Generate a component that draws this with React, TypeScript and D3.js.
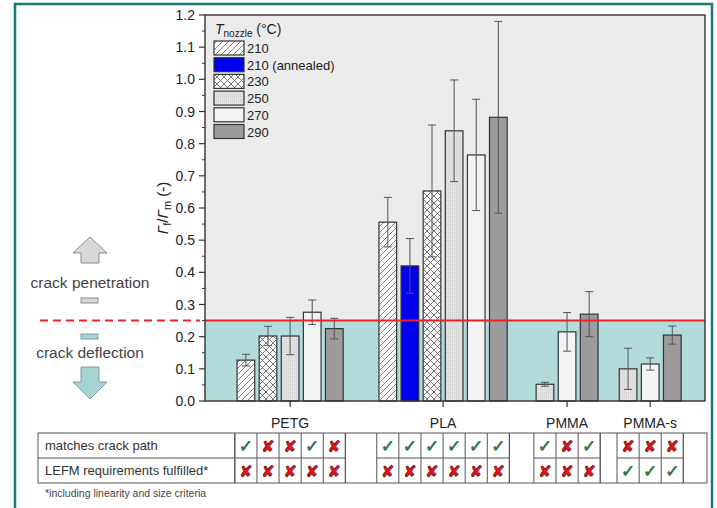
import React from "react";
import * as d3 from "d3";

const categories = ["PETG", "PLA", "PMMA", "PMMA-s"];
const categoryPos = [3.85, 10.77, 16.38, 20.14];
const seriesNames = ["210", "210 (annealed)", "230", "250", "270", "290"];
const groupSeries = [
  [0, 2, 3, 4, 5],
  [0, 1, 2, 3, 4, 5],
  [3, 4, 5],
  [3, 4, 5],
];
const groupValues = [
  [0.127, 0.202, 0.202, 0.276, 0.225],
  [0.556, 0.42, 0.653, 0.84, 0.765, 0.882],
  [0.052, 0.215, 0.27],
  [0.1, 0.115, 0.205],
];
const groupErrors = [
  [0.018, 0.03, 0.058, 0.038, 0.032],
  [0.077, 0.085, 0.205, 0.158, 0.173, 0.298],
  [0.006, 0.06, 0.07],
  [0.064, 0.019, 0.028],
];
const matchesCrackPath = [
  [1, 0, 0, 1, 0],
  [1, 1, 1, 1, 1, 1],
  [1, 0, 1],
  [0, 0, 0],
];
const lefmFulfilled = [
  [0, 0, 0, 0, 0],
  [0, 0, 0, 0, 0, 0],
  [0, 0, 0],
  [1, 1, 1],
];
const tableRowLabels = ["matches crack path", "LEFM requirements fulfilled*"];
const yTickValues = d3.range(0, 13).map((i) => i / 10);
const yMinorValues = d3.range(0, 12).map((i) => i / 10 + 0.05);
const threshold = 0.25;

const FONT = "'Liberation Sans', Arial, Helvetica, sans-serif";
const fills = [
  "url(#hatch210)",
  "url(#hatchBlue)",
  "url(#cross230)",
  "url(#dots250)",
  "#f3f3f3",
  "#9c9c9c",
];

export default function App() {
  const W = 717,
    H = 508;
  const left = 205,
    right = 705,
    top = 15,
    bottom = 401;
  const y = d3.scaleLinear().domain([0, 1.2]).range([bottom, top]);
  const x = d3.scaleLinear().domain([0, 22.62]).range([left, right]);
  const unit = x(1) - x(0);
  const barW = unit * 0.8;

  const bars: any[] = [];
  categories.forEach((c, g) => {
    const n = groupSeries[g].length;
    groupSeries[g].forEach((s, i) => {
      const cx = x(categoryPos[g] + (i - (n - 1) / 2));
      bars.push({
        g,
        i,
        s,
        cx,
        v: groupValues[g][i],
        e: groupErrors[g][i],
        m: matchesCrackPath[g][i],
        l: lefmFulfilled[g][i],
      });
    });
  });

  const tableLeft = 38;
  const tableTop = 433;
  const rowH = 25;
  const firstCol = bars[0].cx - unit / 2;
  const tableRight = right + 2;

  const groupRanges = categories.map((c, g) => {
    const gb = bars.filter((b) => b.g === g);
    return [gb[0].cx - unit / 2, gb[gb.length - 1].cx + unit / 2];
  });

  const check = (cx: number, cy: number, key: string) => (
    <text
      key={key}
      x={cx}
      y={cy + 6}
      textAnchor="middle"
      fontFamily="'DejaVu Sans', sans-serif"
      fontSize={17}
      fontWeight="bold"
      fill="#2a8a3b"
      stroke="#17461f"
      strokeWidth={0.5}
    >
      ✓
    </text>
  );
  const cross = (cx: number, cy: number, key: string) => (
    <text
      key={key}
      x={cx}
      y={cy + 6}
      textAnchor="middle"
      fontFamily="'DejaVu Sans', sans-serif"
      fontSize={16}
      fill="#e4141c"
      stroke="#5a0a0a"
      strokeWidth={0.6}
    >
      ✘
    </text>
  );

  const legendX = 214;
  const legendY0 = 48;
  const legendStep = 16.7;

  return (
    <svg
      width={W}
      height={H}
      style={{ position: "absolute", left: 0, top: 0, background: "#fff" }}
      fontFamily={FONT}
    >
      <defs>
        <pattern id="hatch210" patternUnits="userSpaceOnUse" width={6} height={6}>
          <rect width={6} height={6} fill="#fff" />
          <path d="M-1,1 l2,-2 M0,6 l6,-6 M5,7 l2,-2" stroke="#707070" strokeWidth={0.9} />
        </pattern>
        <pattern id="hatchBlue" patternUnits="userSpaceOnUse" width={6} height={6}>
          <rect width={6} height={6} fill="#0000f0" />
          <path d="M-1,1 l2,-2 M0,6 l6,-6 M5,7 l2,-2" stroke="#10104a" strokeWidth={0.9} />
        </pattern>
        <pattern id="cross230" patternUnits="userSpaceOnUse" width={7} height={7}>
          <rect width={7} height={7} fill="#fff" />
          <path d="M0,0 L7,7 M7,0 L0,7" stroke="#666" strokeWidth={0.9} />
        </pattern>
        <pattern id="dots250" patternUnits="userSpaceOnUse" width={2} height={2}>
          <rect width={2} height={2} fill="#e2e2e2" />
          <rect width={1} height={1} fill="#cfcfcf" />
        </pattern>
      </defs>

      {/* teal frame */}
      <path d="M15,508 L15,4 L712,4 L712,508" fill="none" stroke="#17797a" strokeWidth={2.5} />

      {/* plot backgrounds */}
      <rect x={left} y={top} width={right - left} height={y(threshold) - top} fill="#ebebeb" />
      <rect x={left} y={y(threshold)} width={right - left} height={bottom - y(threshold)} fill="#b2dcdc" />

      {/* bars */}
      {bars.map((b, k) => (
        <rect
          key={"b" + k}
          x={b.cx - barW / 2}
          y={y(b.v)}
          width={barW}
          height={bottom - y(b.v)}
          fill={fills[b.s]}
          stroke="#333"
          strokeWidth={1.2}
        />
      ))}
      {/* error bars */}
      {bars.map((b, k) => (
        <g key={"e" + k} stroke="#555" strokeWidth={1}>
          <line x1={b.cx} x2={b.cx} y1={y(b.v + b.e)} y2={y(b.v - b.e)} />
          <line x1={b.cx - 4} x2={b.cx + 4} y1={y(b.v + b.e)} y2={y(b.v + b.e)} />
          <line x1={b.cx - 4} x2={b.cx + 4} y1={y(b.v - b.e)} y2={y(b.v - b.e)} />
        </g>
      ))}

      {/* threshold line */}
      <line x1={left} x2={right} y1={y(threshold)} y2={y(threshold)} stroke="#ee2226" strokeWidth={2} />

      {/* frame */}
      <rect x={left} y={top} width={right - left} height={bottom - top} fill="none" stroke="#333" strokeWidth={1.4} />

      {/* y axis ticks */}
      {yTickValues.map((t) => (
        <g key={"yt" + t}>
          <line x1={left - 6} x2={left} y1={y(t)} y2={y(t)} stroke="#333" strokeWidth={1.2} />
          <text x={left - 10} y={y(t) + 5} textAnchor="end" fontSize={14} fill="#222">
            {t.toFixed(1)}
          </text>
        </g>
      ))}
      {yMinorValues.map((t) => (
        <line key={"ym" + t} x1={left - 3} x2={left} y1={y(t)} y2={y(t)} stroke="#333" strokeWidth={1} />
      ))}

      {/* y title */}
      <text
        transform={`translate(168, ${y(0.6)}) rotate(-90)`}
        textAnchor="middle"
        fontSize={15}
        fill="#222"
      >
        <tspan fontStyle="italic">Γ</tspan>
        <tspan fontSize={11} dy={3}>f</tspan>
        <tspan dy={-3}>/</tspan>
        <tspan fontStyle="italic">Γ</tspan>
        <tspan fontSize={11} dy={3}>m</tspan>
        <tspan dy={-3}> (-)</tspan>
      </text>

      {/* x ticks & labels */}
      {categories.map((c, g) => (
        <g key={"xc" + c}>
          <line x1={x(categoryPos[g])} x2={x(categoryPos[g])} y1={bottom} y2={bottom + 6} stroke="#333" strokeWidth={1.2} />
          <text x={x(categoryPos[g])} y={bottom + 27} textAnchor="middle" fontSize={14} fill="#222">
            {c}
          </text>
        </g>
      ))}

      {/* legend */}
      <text x={legendX + 1} y={34} fontSize={14} fill="#222">
        <tspan fontStyle="italic">T</tspan>
        <tspan fontSize={10} dy={3}>nozzle</tspan>
        <tspan dy={-3}> (°C)</tspan>
      </text>
      {seriesNames.map((s, i) => (
        <g key={"lg" + s}>
          <rect
            x={legendX}
            y={legendY0 + i * legendStep - 7}
            width={30}
            height={14}
            fill={fills[i]}
            stroke="#333"
            strokeWidth={1.2}
          />
          <text x={legendX + 33} y={legendY0 + i * legendStep + 5} fontSize={13} fill="#222">
            {s}
          </text>
        </g>
      ))}

      {/* left annotation */}
      <path
        d="M90,237 L107,253 L99,253 L99,263 L81,263 L81,253 L73,253 Z"
        fill="#d8d8d8"
        stroke="#8c8c8c"
        strokeWidth={1}
      />
      <rect x={81} y={298} width={17} height={5} fill="#d8d8d8" stroke="#8c8c8c" strokeWidth={1} />
      <text x={90} y={288} textAnchor="middle" fontSize={15.5} fill="#444">
        crack penetration
      </text>
      <line x1={40} x2={left - 5} y1={y(threshold)} y2={y(threshold)} stroke="#ee2226" strokeWidth={2} strokeDasharray="8,5" />
      <rect x={81} y={334} width={17} height={5} fill="#a7d3d4" stroke="#7d9d9e" strokeWidth={1} />
      <text x={90} y={358} textAnchor="middle" fontSize={15.5} fill="#444">
        crack deflection
      </text>
      <path
        d="M81,367 L99,367 L99,382 L107,382 L90,399 L73,382 L81,382 Z"
        fill="#a7d3d4"
        stroke="#7d9d9e"
        strokeWidth={1}
      />

      {/* table */}
      <g stroke="#555" strokeWidth={1} fill="none">
        <rect x={tableLeft} y={tableTop} width={tableRight - tableLeft} height={rowH * 2} fill="#fff" />
        <line x1={tableLeft} x2={firstCol} y1={tableTop + rowH} y2={tableTop + rowH} />
        <line x1={firstCol} x2={firstCol} y1={tableTop} y2={tableTop + 2 * rowH} />
        {groupRanges.map((r, g) => (
          <g key={"gr" + g}>
            <line x1={r[0]} x2={r[1]} y1={tableTop + rowH} y2={tableTop + rowH} />
            <line x1={r[0]} x2={r[0]} y1={tableTop} y2={tableTop + 2 * rowH} />
            <line x1={r[1]} x2={r[1]} y1={tableTop} y2={tableTop + 2 * rowH} />
          </g>
        ))}
        {bars.map((b, k) => (
          <line key={"tc" + k} x1={b.cx + unit / 2} x2={b.cx + unit / 2} y1={tableTop} y2={tableTop + 2 * rowH} />
        ))}
      </g>
      {tableRowLabels.map((t, r) => (
        <text key={"tr" + r} x={tableLeft + 7} y={tableTop + r * rowH + 17} fontSize={13} fill="#333">
          {t}
        </text>
      ))}
      {bars.map((b, k) => (
        <g key={"mk" + k}>
          {b.m ? check(b.cx, tableTop + rowH / 2, "m" + k) : cross(b.cx, tableTop + rowH / 2, "m" + k)}
          {b.l ? check(b.cx, tableTop + rowH * 1.5, "l" + k) : cross(b.cx, tableTop + rowH * 1.5, "l" + k)}
        </g>
      ))}
      <text x={tableLeft + 7} y={497} fontSize={10.5} fill="#444">
        *including linearity and size criteria
      </text>
    </svg>
  );
}
